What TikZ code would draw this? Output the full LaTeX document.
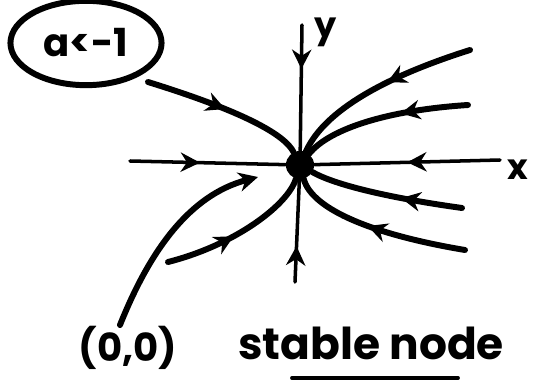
\documentclass[tikz,border=0pt]{standalone}
\usepackage{fontspec}
\setmainfont{Poppins}
\usetikzlibrary{arrows.meta,decorations.markings,shapes.geometric}

\tikzset{
  flow/.style={line width=3.4pt, line cap=round, postaction={decorate},
    decoration={markings, mark=at position #1 with {\arrow{Stealth[length=11pt,width=11pt]}}}},
  flow/.default=0.5,
  axisflow/.style={flow=#1, line width=2pt},
  axisflow/.default=0.5
}

\begin{document}
\begin{tikzpicture}[x=0.02cm, y=-0.02cm]

\useasboundingbox (0,0) rectangle (538,382);

% fixed point
\node [circle, fill=black, inner sep=0pt, minimum size=16pt] (origin) at (300,165) {};

% axes
\coordinate (xl) at (130,161);
\coordinate (xr) at (500,160);
\coordinate (yt) at (302,25);
\coordinate (yb) at (295,282);

\draw [axisflow=0.45] (xl) -- (origin);
\draw [axisflow=0.5] (xr) -- (origin);
\draw [axisflow=0.35] (yt) -- (origin);
\draw [axisflow=0.35] (yb) -- (origin);

\node [font={\bfseries\fontsize{20}{20}\selectfont}] (ylabel) at (326,32) {y};
\node [font={\bfseries\fontsize{20}{20}\selectfont}] (xlabel) at (518,170) {x};

% trajectories
\coordinate (ul) at (148,82);
\coordinate (ur1) at (470,50);
\coordinate (ur2) at (468,105);
\coordinate (lr1) at (462,208);
\coordinate (lr2) at (465,250);
\coordinate (ll) at (168,262);

\draw [flow=0.5] (ul) .. controls (245,112) and (285,135) .. (origin);
\draw [flow=0.45] (ur1) .. controls (375,80) and (322,115) .. (origin);
\draw [flow=0.4] (ur2) .. controls (390,110) and (330,128) .. (origin);
\draw [flow=0.4] (lr1) .. controls (390,198) and (335,185) .. (origin);
\draw [flow=0.55] (lr2) .. controls (375,235) and (312,210) .. (origin);
\draw [flow=0.45] (ll) .. controls (235,245) and (288,205) .. (origin);

% labels
\node [draw, ellipse, line width=3.4pt, inner sep=0pt, minimum width=86pt, minimum height=48pt,
font={\bfseries\fontsize{22}{22}\selectfont}] (cond) at (86,43) {a<-1};

\node [font={\bfseries\fontsize{22}{22}\selectfont}] (pt) at (128,348) {(0,0)};
\coordinate (ptstart) at (120,325);
\coordinate (ptend) at (258,177);
\draw [line width=3.4pt, line cap=round, -{Stealth[length=11pt,width=11pt]}]
  (ptstart) .. controls (150,250) and (190,195) .. (ptend);

\node [font={\bfseries\fontsize{25}{25}\selectfont}] (kind) at (371,343) {stable node};
\coordinate (ulstart) at (292,378);
\coordinate (ulend) at (458,378);
\draw [line width=2.2pt, line cap=round] (ulstart) -- (ulend);

\end{tikzpicture}
\end{document}
